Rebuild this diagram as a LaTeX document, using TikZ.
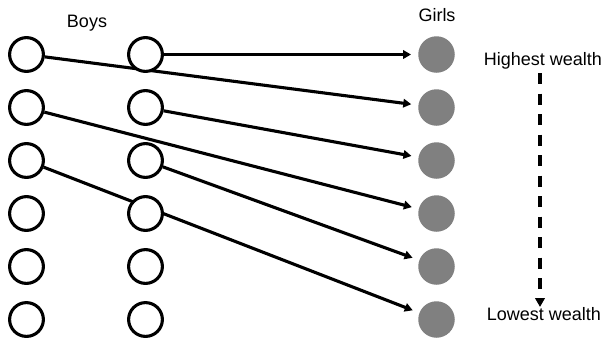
\documentclass[tikz,border=0pt]{standalone}
\usepackage{fontspec}
\setmainfont{Liberation Sans}
\usetikzlibrary{arrows.meta}
\pgfdeclarelayer{bg}
\pgfsetlayers{bg,main}
\begin{document}
\begin{tikzpicture}[x=1pt,y=-1pt,
  boy/.style={circle,draw=black,line width=3.1pt,fill=white,minimum size=33.8pt,inner sep=0pt},
  girl/.style={circle,fill=girlgray,minimum size=36.5pt,inner sep=0pt},
  caption/.style={font=\fontsize{18pt}{20pt}\selectfont,anchor=base,inner sep=0pt},
  link/.style={line width=3.1pt,-{Triangle[length=8pt,width=8.5pt]},shorten >=7pt},
  wealthaxis/.style={line width=3.2pt,dash pattern=on 11pt off 9.5pt,-{Triangle[length=9pt,width=9.5pt]}}]
\definecolor{girlgray}{HTML}{808080}
\useasboundingbox (0,0) rectangle (605,338);

% boys: two columns of six; girls: one column of six
\foreach \i in {1,...,6} {
  \node[boy] (l\i) at (26.5,{54.5+53*(\i-1)}) {};
  \node[boy] (m\i) at (145.5,{54.5+53*(\i-1)}) {};
  \node[girl] (g\i) at (436.5,{54.5+53*(\i-1)}) {};
}

% headings and wealth scale
\node[caption] (boys) at (87,27.6) {Boys};
\node[caption] (girls) at (437,21.7) {Girls};
\node[caption] (hi) at (543,65) {Highest wealth};
\node[caption] (lo) at (544,320.5) {Lowest wealth};
\coordinate (top) at (540,73);
\coordinate (bottom) at (540,307);
\draw[wealthaxis] (top) -- (bottom);

% matches, drawn beneath the circles
\begin{pgfonlayer}{bg}
  \draw[link] (m1) -- (g1);
  \draw[link] (l1) -- (g2);
  \draw[link] (m2) -- (g3);
  \draw[link] (l2) -- (g4);
  \draw[link] (m3) -- (g5);
  \draw[link] (l3) -- (g6);
\end{pgfonlayer}
\end{tikzpicture}
\end{document}
